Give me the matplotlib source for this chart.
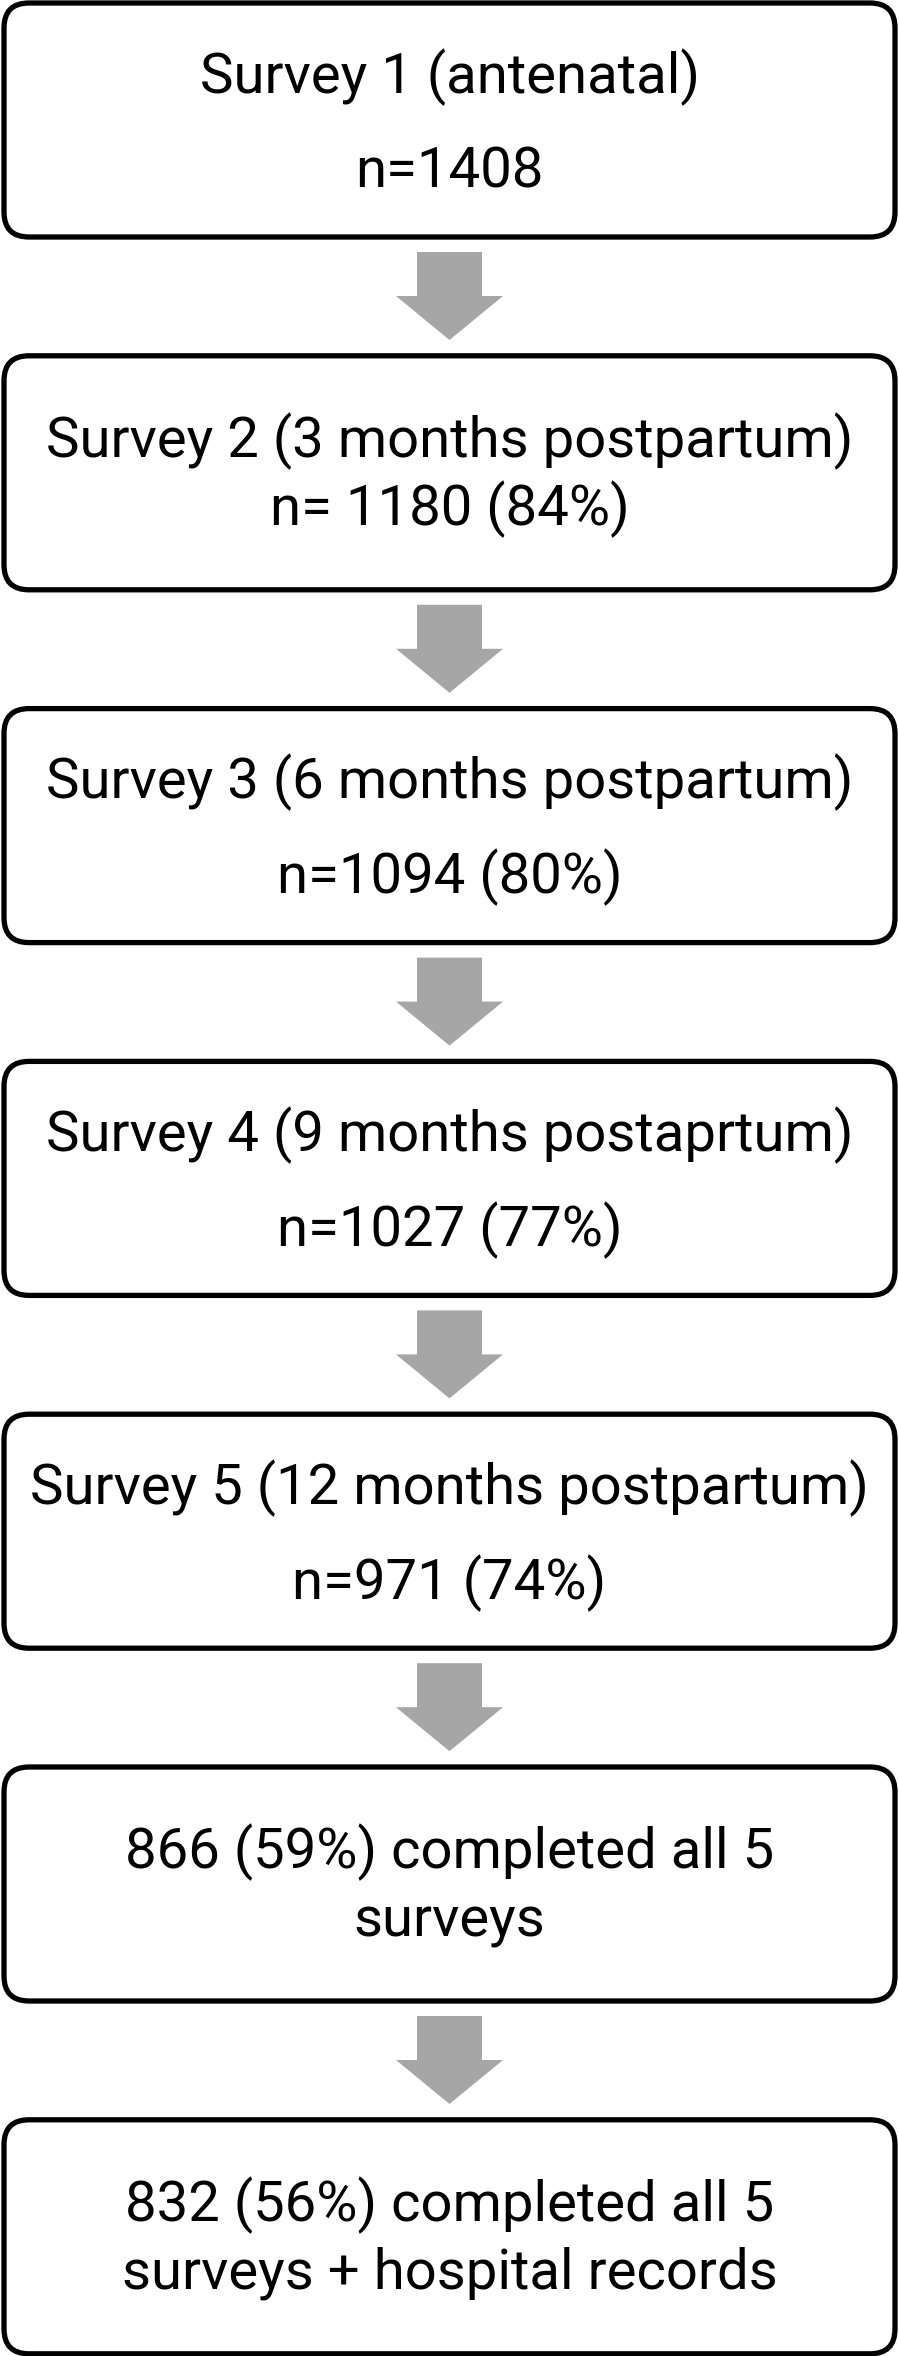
import matplotlib
matplotlib.use("Agg")
import matplotlib.pyplot as plt
from matplotlib.patches import FancyBboxPatch, Polygon

# flowchart content
line1 = [
    "Survey 1 (antenatal)",
    "Survey 2 (3 months postpartum)",
    "Survey 3 (6 months postpartum)",
    "Survey 4 (9 months postaprtum)",
    "Survey 5 (12 months postpartum)",
    "866 (59%) completed all 5",
    "832 (56%) completed all 5",
]
line2 = [
    "n=1408",
    "n= 1180 (84%)",
    "n=1094 (80%)",
    "n=1027 (77%)",
    "n=971 (74%)",
    "surveys",
    "surveys + hospital records",
]

# layout (pixels, y downward)
W, H = 899, 2356
period = 352.8
box_top0 = 3
box_h = 234
box_left, box_right = 4, 895
tight_boxes = {1, 5, 6}
base_tight = (101, 169)
base_loose = (90, 185)
grey = "#a6a6a6"
fs = 40.5

plt.rcParams["font.family"] = ["Roboto", "DejaVu Sans"]

fig = plt.figure(figsize=(W / 100, H / 100), dpi=100)
ax = fig.add_axes([0, 0, 1, 1])
ax.set_xlim(0, W)
ax.set_ylim(H, 0)
ax.axis("off")

cx = W / 2
for i, (a, b) in enumerate(zip(line1, line2)):
    top = box_top0 + i * period
    box = FancyBboxPatch(
        (box_left, top), box_right - box_left, box_h,
        boxstyle="round,pad=0,rounding_size=25",
        facecolor="white", edgecolor="black", linewidth=3.8,
    )
    ax.add_patch(box)
    b1, b2 = base_tight if i in tight_boxes else base_loose
    ax.text(cx, top + b1, a, ha="center", va="baseline", fontsize=fs, color="black")
    ax.text(cx, top + b2, b, ha="center", va="baseline", fontsize=fs, color="black")

    # arrow to next box
    if i < len(line1) - 1:
        y0 = top + box_h + 15
        y1 = y0 + 44
        y2 = y0 + 88
        pts = [
            (417, y0), (482, y0), (482, y1), (503, y1),
            (cx, y2), (396, y1), (417, y1),
        ]
        ax.add_patch(Polygon(pts, closed=True, facecolor=grey, edgecolor="none"))

fig.savefig("out.png", dpi=100, facecolor="white")
